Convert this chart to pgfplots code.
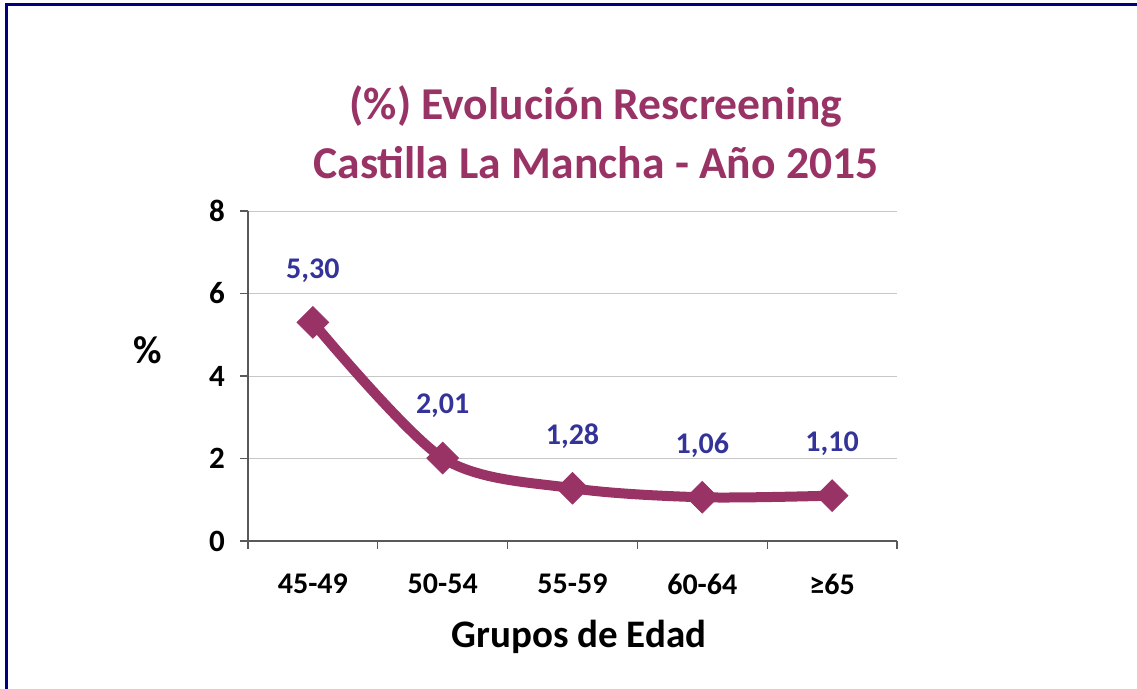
\documentclass[border=0pt]{standalone}
\usepackage{pgfplots}
\pgfplotsset{compat=1.18}
\usepackage{fontspec}
\setmainfont{Carlito}
\definecolor{plum}{HTML}{993366}
\definecolor{lblue}{HTML}{333399}
\definecolor{navyb}{HTML}{000080}
\begin{document}
\begin{tikzpicture}
\path[use as bounding box] (0,0) rectangle (568.5pt,-344.5pt);
\draw[navyb, line width=1.2pt] (3.3pt,-346pt) -- (3.3pt,-2.3pt) -- (570pt,-2.3pt);
\node[plum, font=\fontsize{22.8}{29.5}\selectfont\bfseries, align=center] at (298pt,-66pt) {(\%) Evolución Rescreening\\Castilla La Mancha - Año 2015};
\begin{axis}[
  at={(124pt,-270.5pt)}, anchor=south west,
  scale only axis, width=324.5pt, height=165pt,
  xmin=-0.5, xmax=4.5, ymin=0, ymax=8,
  ytick={0,2,4,6,8},
  xtick={-0.5,0.5,1.5,2.5,3.5,4.5},
  xticklabels={},
  extra x ticks={0,1,2,3,4},
  extra x tick labels={45-49,50-54,55-59,60-64,≥65},
  extra x tick style={major tick length=0pt, xticklabel style={yshift=-13pt}},
  axis x line*=bottom, axis y line*=left,
  axis line style={black!65, line width=0.6pt},
  tick align=outside,
  major tick length=4pt,
  every tick/.style={black!65, line width=0.6pt},
  ymajorgrids, grid style={black!22, line width=0.5pt},
  /pgf/number format/assume math mode=true,
  xticklabel style={font=\fontsize{15}{18}\selectfont\bfseries},
  yticklabel style={font=\fontsize{15.5}{18}\selectfont\bfseries, xshift=-4pt},
  clip=false,
]
\addplot[plum, line width=5pt, smooth, tension=0.5,
  mark=square*, mark size=5.6pt,
  mark options={rotate=45, solid, fill=plum, draw=plum, line width=0.4pt},
  nodes near coords, point meta=explicit symbolic,
  nodes near coords style={lblue, font=\fontsize{15}{18}\selectfont\bfseries, anchor=center, yshift=26pt},
] table[x=x, y=y, meta=lab] {
x y lab
0 5.30 5,30
1 2.01 2,01
2 1.28 1,28
3 1.06 1,06
4 1.10 1,10
};
\node[font=\fontsize{19.5}{23}\selectfont\bfseries] at (rel axis cs:0.51,-0.291) {Grupos de Edad};
\node[font=\fontsize{19.5}{23}\selectfont\bfseries] at (rel axis cs:-0.154,0.579) {\%};
\end{axis}
\end{tikzpicture}
\end{document}
